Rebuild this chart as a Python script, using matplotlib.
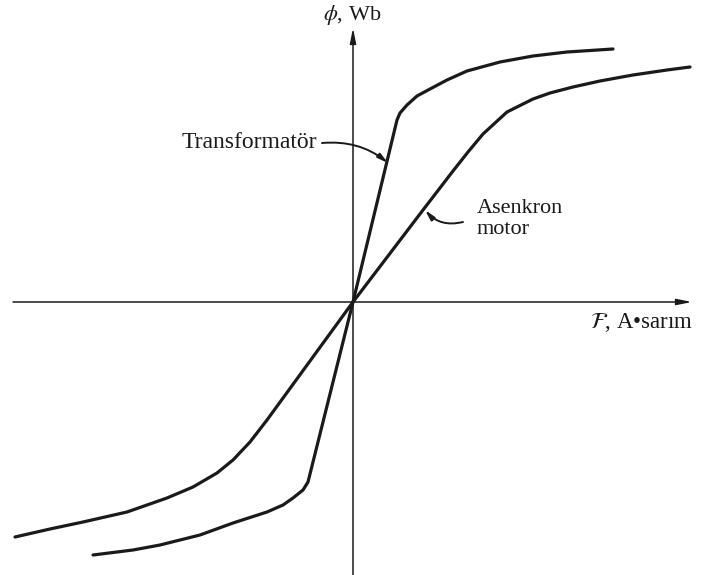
import matplotlib
matplotlib.use("Agg")
import matplotlib.pyplot as plt

plt.rcParams['mathtext.fontset'] = 'stix'
plt.rcParams['font.family'] = ['Liberation Serif', 'DejaVu Serif']

# Transformer magnetization curve (F, phi) in arbitrary units
trafo_F = [-260, -220, -193, -153, -120, -86, -70, -60, -50, -45, 0,
           44, 47, 54, 64, 77, 94, 114, 147, 180, 214, 260]
trafo_phi = [-253, -248, -243, -233, -221, -210, -203, -196, -188, -180, 0,
             182, 189, 197, 206, 213, 222, 231, 240, 246, 250, 253]

# Induction motor magnetization curve
motor_F = [-338, -303, -270, -226, -186, -160, -136, -120, -103, -86, 0,
           70, 100, 115, 130, 154, 180, 197, 220, 247, 280, 314, 337]
motor_phi = [-235, -227, -220, -210, -196, -185, -171, -158, -140, -118, 0,
             92, 131, 150, 168, 190, 203, 209, 215, 221, 227, 232, 235]

x_label = r"$\mathcal{F}$, A•sarım"
y_label = r"$\phi$, Wb"
trafo_label = "Transformatör"
motor_label = "Asenkron\nmotor"

fig = plt.figure(figsize=(7.01, 5.75), dpi=100)
ax = fig.add_axes([0, 0, 1, 1])
ax.set_xlim(-353, 348)
ax.set_ylim(-273, 302)
ax.axis('off')

ink = '#1a1a1a'

# axes with arrows
ax.annotate('', xy=(339, 0), xytext=(-340, 0),
            arrowprops=dict(arrowstyle='-|>,head_length=0.9,head_width=0.18',
                            lw=1.1, color=ink, shrinkA=0, shrinkB=0))
ax.annotate('', xy=(0, 274), xytext=(0, -273),
            arrowprops=dict(arrowstyle='-|>,head_length=0.9,head_width=0.18',
                            lw=1.1, color=ink, shrinkA=0, shrinkB=0))

ax.plot(trafo_F, trafo_phi, color=ink, lw=2.3, solid_joinstyle='round', solid_capstyle='round')
ax.plot(motor_F, motor_phi, color=ink, lw=2.3, solid_joinstyle='round', solid_capstyle='round')

ax.text(-0.5, 287, y_label, ha='center', va='center', fontsize=16, color=ink)
ax.text(289, -21, x_label, ha='center', va='center', fontsize=16.5, color=ink)

# annotations
ax.text(-36, 159, trafo_label, ha='right', va='center', fontsize=17, color=ink)
ax.annotate('', xy=(35, 139), xytext=(-31, 159),
            arrowprops=dict(arrowstyle='-|>,head_length=0.6,head_width=0.15',
                            connectionstyle='arc3,rad=-0.2', lw=1.4, color=ink,
                            shrinkA=0, shrinkB=0))
ax.text(124, 83, motor_label, ha='left', va='center', fontsize=16, color=ink,
        linespacing=1.15, multialignment='left')
ax.annotate('', xy=(72, 92), xytext=(110, 80),
            arrowprops=dict(arrowstyle='-|>,head_length=0.6,head_width=0.15',
                            connectionstyle='arc3,rad=-0.3', lw=1.4, color=ink,
                            shrinkA=0, shrinkB=0))

fig.savefig('out.png', dpi=100, facecolor='white')
